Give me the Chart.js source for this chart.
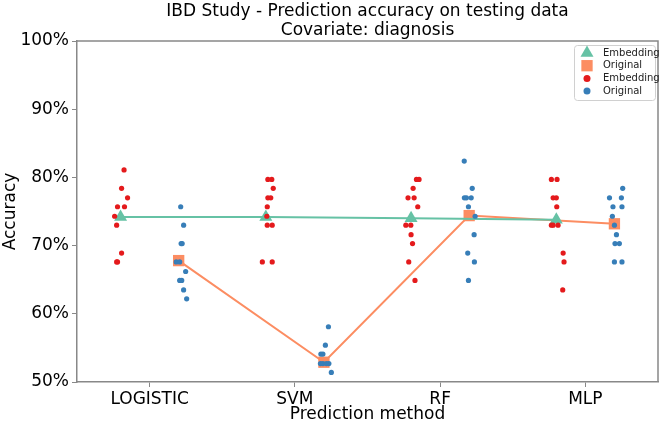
<!DOCTYPE html>
<html><head><meta charset="utf-8">
<script src="https://cdn.jsdelivr.net/npm/chart.js@4"></script>
<style>html,body{margin:0;padding:0;background:#fff}</style>
</head><body>
<canvas id="c" width="666" height="425"></canvas>
<script>
// ---- data ----
const categories = ['LOGISTIC', 'SVM', 'RF', 'MLP'];
const titleLines = ['IBD Study - Prediction accuracy on testing data', 'Covariate: diagnosis'];
const yTicks = [50, 60, 70, 80, 90, 100];

// per-run accuracies (%) for each method
const embLogistic = [81.1, 78.4, 77.0, 75.7, 75.7, 74.3, 73.0, 68.9, 67.6, 67.6];
const embSVM      = [79.7, 79.7, 78.4, 77.0, 77.0, 75.7, 74.3, 73.0, 73.0, 67.6, 67.6];
const embRF       = [79.7, 79.7, 78.4, 77.0, 77.0, 75.7, 73.0, 73.0, 71.6, 70.3, 67.6, 64.9];
const embMLP      = [79.7, 79.7, 77.0, 77.0, 75.7, 73.0, 73.0, 73.0, 68.9, 67.6, 63.5];

const origLogistic = [75.7, 73.0, 70.3, 70.3, 67.6, 67.6, 66.2, 64.9, 64.9, 63.5, 62.2];
const origSVM      = [58.1, 55.4, 54.1, 54.1, 52.7, 52.7, 52.7, 52.7, 51.4];
const origRF       = [82.4, 78.4, 77.0, 77.0, 77.0, 75.7, 74.3, 71.6, 68.9, 67.6, 64.9];
const origMLP      = [78.4, 77.0, 77.0, 75.7, 75.7, 74.3, 73.0, 71.6, 70.3, 70.3, 67.6, 67.6];

// mean accuracy per method
const embMean  = [74.2, 74.2, 74.0, 73.8];
const origMean = [67.8, 52.9, 74.4, 73.2];

// strip jitter (hundredths of a category)
const jitEmbLogistic = [2.4, 0.7, 4.8, -2.1, 2.7, -4.1, -2.7, 0.7, -2.7, -2.1];
const jitEmbSVM      = [1.4, 4.1, 5.1, 1.4, 3.4, 1.0, 0.7, 1.0, 4.4, -2.4, 4.4];
const jitEmbRF       = [3.7, 5.5, 1.4, -2.1, 2.1, 4.6, -3.6, -0.2, 0, 1.0, -1.6, 2.7];
const jitEmbMLP      = [-3.4, 0.5, -2.2, 0, 0.3, -3.4, -2.2, 1.2, 4.7, 5.3, 4.4];
const jitOrigLogistic = [1.4, 3.4, 1.7, 2.4, -1.7, 0.7, 4.8, 0.7, 2.1, 3.4, 5.5];
const jitOrigSVM      = [3.1, 1.0, -2.1, -0.7, -2.4, -0.7, 3.4, 1.7, 5.1];
const jitOrigRF       = [-3.4, 2.1, -3.3, -1.9, 1.4, -0.5, 4.1, 3.4, -1.0, 3.6, -0.5];
const jitOrigMLP      = [5.7, -3.4, 4.8, -1.0, 5.2, -1.4, 0, 1.4, 0.4, 3.4, 0, 5.2];

// ---- build ----
const DODGE = 0.2;
const embAll = [embLogistic, embSVM, embRF, embMLP];
const origAll = [origLogistic, origSVM, origRF, origMLP];
const jitEmb = [jitEmbLogistic, jitEmbSVM, jitEmbRF, jitEmbMLP];
const jitOrig = [jitOrigLogistic, jitOrigSVM, jitOrigRF, jitOrigMLP];

function stripPoints(all, jit, off) {
  const pts = [];
  all.forEach((vals, i) => vals.forEach((v, k) => pts.push({x: i + off + jit[i][k] / 100, y: v})));
  return pts;
}

const COL_RED = '#e41a1c', COL_BLUE = '#377eb8', COL_GREEN = '#66c2a5', COL_ORANGE = '#fc8d62';
const FONT = 'DejaVu Sans';
Chart.defaults.font.family = FONT;

const datasets = [
  {type: 'scatter', label: 'Embedding', data: stripPoints(embAll, jitEmb, -DODGE),
   backgroundColor: COL_RED, borderWidth: 0, pointRadius: 2.6, order: 0},
  {type: 'scatter', label: 'Original', data: stripPoints(origAll, jitOrig, DODGE),
   backgroundColor: COL_BLUE, borderWidth: 0, pointRadius: 2.6, order: 0},
  {type: 'line', label: 'Embedding', data: embMean.map((m, i) => ({x: i - DODGE, y: m})),
   borderColor: COL_GREEN, backgroundColor: COL_GREEN, borderWidth: 2, pointStyle: 'triangle',
   pointRadius: 7.5, pointBorderWidth: 0, tension: 0, order: 1},
  {type: 'line', label: 'Original', data: origMean.map((m, i) => ({x: i + DODGE, y: m})),
   borderColor: COL_ORANGE, backgroundColor: COL_ORANGE, borderWidth: 2, pointStyle: 'rect',
   pointRadius: 8, pointBorderWidth: 0, tension: 0, order: 1}
];

const frame = {
  id: 'frame',
  afterDraw(chart) {
    const {ctx, chartArea: a} = chart;
    ctx.save();
    ctx.strokeStyle = '#888'; ctx.lineWidth = 1.5;
    ctx.beginPath();
    ctx.moveTo(a.left, a.top); ctx.lineTo(a.right, a.top); ctx.lineTo(a.right, a.bottom);
    ctx.stroke();
    // title
    ctx.fillStyle = '#000';
    ctx.font = '17px "' + FONT + '"';
    ctx.textAlign = 'center'; ctx.textBaseline = 'middle';
    const cx = (a.left + a.right) / 2;
    ctx.fillText(titleLines[0], cx, 12);
    ctx.fillText(titleLines[1], cx, 31);
    // legend
    const lx = a.right - 84, ly = a.top + 4, lw = 81, lh = 55;
    ctx.fillStyle = 'rgba(255,255,255,0.8)';
    ctx.strokeStyle = '#d0d0d0'; ctx.lineWidth = 1;
    ctx.beginPath();
    if (ctx.roundRect) ctx.roundRect(lx + 0.5, ly + 0.5, lw, lh, 3); else ctx.rect(lx + 0.5, ly + 0.5, lw, lh);
    ctx.fill(); ctx.stroke();
    const items = [
      {style: 'triangle', color: COL_GREEN, r: 7.5, text: datasets[2].label},
      {style: 'rect', color: COL_ORANGE, r: 8, text: datasets[3].label},
      {style: 'circle', color: COL_RED, r: 3.5, text: datasets[0].label},
      {style: 'circle', color: COL_BLUE, r: 3.5, text: datasets[1].label}
    ];
    ctx.font = '10px "' + FONT + '"';
    ctx.textAlign = 'left'; ctx.textBaseline = 'middle';
    items.forEach((it, k) => {
      const y = ly + 8 + k * 12.7;
      ctx.fillStyle = it.color;
      Chart.helpers.drawPoint(ctx, {pointStyle: it.style, radius: it.r, borderWidth: 0}, lx + 13, y);
      ctx.fillStyle = '#222';
      ctx.fillText(it.text, lx + 29, y);
    });
    ctx.restore();
  }
};

new Chart(document.getElementById('c'), {
  type: 'scatter',
  data: {datasets},
  options: {
    responsive: false, animation: false,
    layout: {padding: {top: 41, right: 4, left: 0, bottom: 0}},
    plugins: {legend: {display: false}, title: {display: false}, tooltip: {enabled: false}},
    scales: {
      x: {
        type: 'linear', min: -0.5, max: 3.5,
        afterBuildTicks: s => { s.ticks = categories.map((c, i) => ({value: i})); },
        ticks: {callback: v => categories[v], font: {size: 17}, color: '#000', padding: 2, autoSkip: false, maxRotation: 0},
        grid: {drawOnChartArea: false, drawTicks: true, tickLength: 5, color: '#888'},
        border: {color: '#888', width: 1.5},
        title: {display: true, text: 'Prediction method', font: {size: 17}, color: '#000', padding: {top: 0, bottom: 0}},
        afterFit: s => { s.height = 43; }
      },
      y: {
        type: 'linear', min: 50, max: 100,
        afterBuildTicks: s => { s.ticks = yTicks.map(v => ({value: v})); },
        ticks: {callback: v => v + '%', font: {size: 17}, color: '#000', padding: 3},
        grid: {drawOnChartArea: false, drawTicks: true, tickLength: 5, color: '#888'},
        border: {color: '#888', width: 1.5},
        title: {display: true, text: 'Accuracy', font: {size: 17}, color: '#000', padding: {top: 0, bottom: 2}},
        afterFit: s => { s.width = 77; }
      }
    }
  },
  plugins: [frame]
});
</script>
</body></html>
